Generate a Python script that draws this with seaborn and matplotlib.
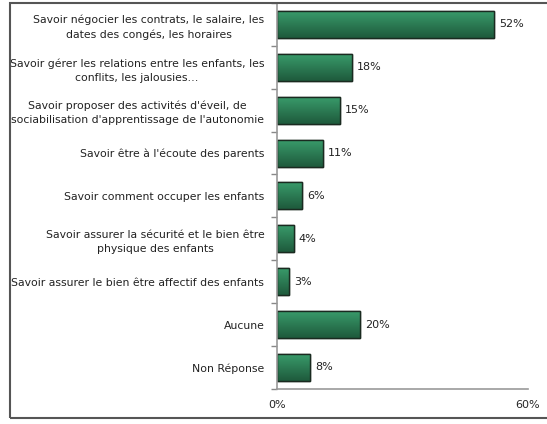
import matplotlib.pyplot as plt
import numpy as np
import pandas as pd
import seaborn as sns
from matplotlib.colors import LinearSegmentedColormap
from matplotlib.patches import Rectangle

labels = [
    "Savoir négocier les contrats, le salaire, les\ndates des congés, les horaires",
    "Savoir gérer les relations entre les enfants, les\nconflits, les jalousies…",
    "Savoir proposer des activités d'éveil, de\nsociabilisation d'apprentissage de l'autonomie",
    "Savoir être à l'écoute des parents",
    "Savoir comment occuper les enfants",
    "Savoir assurer la sécurité et le bien être\nphysique des enfants",
    "Savoir assurer le bien être affectif des enfants",
    "Aucune",
    "Non Réponse",
]
values = [52, 18, 15, 11, 6, 4, 3, 20, 8]

df = pd.DataFrame({"label": labels, "value": values})

sns.set_style("white")
plt.rcParams['font.family'] = ['DejaVu Sans']

fig = plt.figure(figsize=(5.47, 4.24), dpi=100)
ax = fig.add_axes([0.506, 0.083, 0.459, 0.91])

sns.barplot(data=df, x="value", y="label", color="#2b7d55", width=0.63,
            edgecolor="#1a2a20", linewidth=1.0, ax=ax)

# gradient fill inside each bar
cmap = LinearSegmentedColormap.from_list("g", ["#3a9d6c", "#1e5a3c"])
grad = np.linspace(0, 1, 64).reshape(-1, 1)
for p in ax.patches:
    x0, y0 = p.get_x(), p.get_y()
    w, h = p.get_width(), p.get_height()
    im = ax.imshow(grad, cmap=cmap, aspect="auto",
                   extent=[x0, x0 + w, y0 + h, y0], zorder=p.get_zorder() + 0.1)
    im.set_clip_path(p)
    ax.add_patch(Rectangle((x0, y0), w, h, fill=False, edgecolor="#1a2a20",
                           linewidth=1.0, zorder=p.get_zorder() + 0.2))

for i, v in enumerate(values):
    ax.text(v + 1.2, i, f"{v}%", va="center", ha="left", fontsize=8,
            color="#222222")

ax.set_xlim(0, 60)
ax.set_ylim(len(values) - 0.5, -0.5)
ax.set_xticks([0, 60])
ax.set_xticklabels(["0%", "60%"], fontsize=8)
ax.set_yticks(np.arange(len(values)))
ax.set_yticklabels(labels, fontsize=7.8, color="#222222", ha="right",
                   multialignment="center", linespacing=1.5)
ax.tick_params(axis="y", length=0, pad=9)
ax.tick_params(axis="x", length=0, pad=8)
ax.set_xlabel("")
ax.set_ylabel("")

# small ticks between categories on y-axis and at x-axis ends
ax.set_yticks(np.arange(-0.5, len(values), 1), minor=True)
ax.tick_params(axis="y", which="minor", length=4, width=1, color="#888888",
               direction="out", left=True)
for side in ["top", "right"]:
    ax.spines[side].set_visible(False)
for side in ["left", "bottom"]:
    ax.spines[side].set_color("#999999")
    ax.spines[side].set_linewidth(1.2)
ax.set_xticks([0, 60], minor=True)
ax.tick_params(axis="x", which="minor", length=4, width=1, color="#999999",
               direction="out", bottom=True)
ax.tick_params(axis="x", which="major", length=0)

# outer frame
fig.patches.append(Rectangle((10 / 547, 6 / 424), 1.2, (418 - 3) / 424,
                             transform=fig.transFigure, fill=False,
                             edgecolor="#555555", linewidth=1.5))

fig.savefig("out.png", dpi=100)
